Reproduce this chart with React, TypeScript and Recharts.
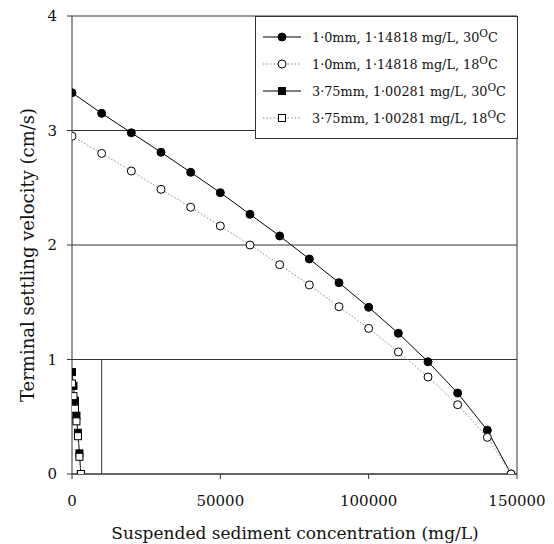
import { CartesianGrid, ComposedChart, Label, Line, ReferenceLine, XAxis, YAxis } from 'recharts'

const font = 'DejaVu Serif'

// concentration (mg/L) -> terminal settling velocity (cm/s)
const fineConc = [0, 10000, 20000, 30000, 40000, 50000, 60000, 70000, 80000, 90000, 100000, 110000, 120000, 130000, 140000, 148000]
const fineWarm = [3.33, 3.15, 2.98, 2.81, 2.635, 2.457, 2.268, 2.079, 1.878, 1.671, 1.456, 1.229, 0.98, 0.707, 0.382, 0]
const fineCool = [2.95, 2.8, 2.646, 2.486, 2.33, 2.166, 2.0, 1.828, 1.651, 1.461, 1.272, 1.066, 0.847, 0.605, 0.32, 0]

const coarseConc = [0, 500, 1000, 1500, 2000, 2500, 3000]
const coarseWarm = [0.89, 0.77, 0.64, 0.51, 0.36, 0.18, 0]
const coarseCool = [0.79, 0.68, 0.57, 0.46, 0.33, 0.15, 0]

const xTicks = [0, 50000, 100000, 150000]
const yTicks = [0, 1, 2, 3, 4]

const toRows = (xs: number[], ys: number[]) => xs.map((x, i) => ({ x, y: ys[i] }))

const series = [
  { key: 'a', label: '1·0mm, 1·14818 mg/L, 30', data: toRows(fineConc, fineWarm), marker: 'circle', filled: true, dotted: false },
  { key: 'b', label: '1·0mm, 1·14818 mg/L, 18', data: toRows(fineConc, fineCool), marker: 'circle', filled: false, dotted: true },
  { key: 'c', label: '3·75mm, 1·00281 mg/L, 30', data: toRows(coarseConc, coarseWarm), marker: 'square', filled: true, dotted: false },
  { key: 'd', label: '3·75mm, 1·00281 mg/L, 18', data: toRows(coarseConc, coarseCool), marker: 'square', filled: false, dotted: true },
]

function squareDot(filled: boolean) {
  return (props: any) => {
    const { cx, cy, index } = props
    if (cx == null || cy == null) return <g key={index} />
    return <rect key={index} x={cx - 3.5} y={cy - 3.5} width={7} height={7} fill={filled ? '#000' : '#fff'} stroke="#000" strokeWidth={1} />
  }
}

function LegendBox() {
  return (
    <div style={{ position: 'absolute', left: 255, top: 16, width: 261, height: 121, border: '1px solid #333', background: '#fff', fontFamily: font, fontSize: 12.8, color: '#111' }}>
      {series.map((s, i) => (
        <div key={s.key} style={{ position: 'absolute', left: 7, top: 9 + i * 27, height: 22, display: 'flex', alignItems: 'center' }}>
          <svg width={40} height={12} style={{ marginRight: 9 }}>
            <line x1={0} y1={6} x2={38} y2={6} stroke={s.dotted ? '#888' : '#000'} strokeWidth={1} strokeDasharray={s.dotted ? '1.5 2' : undefined} />
            {s.marker === 'circle' ? (
              <circle cx={19} cy={6} r={4} fill={s.filled ? '#000' : '#fff'} stroke="#000" />
            ) : (
              <rect x={15.5} y={2.5} width={7} height={7} fill={s.filled ? '#000' : '#fff'} stroke="#000" />
            )}
          </svg>
          <span style={{ whiteSpace: 'nowrap' }}>
            {s.label}
            <span style={{ fontSize: 10.5, position: 'relative', top: -5 }}>O</span>C
          </span>
        </div>
      ))}
    </div>
  )
}

export default function App() {
  return (
    <div style={{ position: 'absolute', left: 0, top: 0, width: 554, height: 544, background: '#fff' }}>
      <ComposedChart width={554} height={544} margin={{ top: 16, right: 37, bottom: 0, left: 0 }}>
        <CartesianGrid horizontal vertical={false} stroke="#333" strokeWidth={1} />
        <XAxis
          type="number"
          dataKey="x"
          domain={[0, 150000]}
          ticks={xTicks}
          height={70}
          allowDataOverflow
          stroke="#333"
          tickSize={5}
          tickMargin={16}
          tick={{ fill: '#111', fontSize: 15, fontFamily: font }}
        >
          <Label
            content={() => (
              <text x={295} y={539} textAnchor="middle" fill="#111" fontSize={17} fontFamily={font}>
                Suspended sediment concentration (mg/L)
              </text>
            )}
          />
        </XAxis>
        <YAxis
          type="number"
          dataKey="y"
          domain={[0, 4]}
          ticks={yTicks}
          width={72}
          allowDataOverflow
          stroke="#333"
          tickSize={5}
          tickMargin={10}
          tick={{ fill: '#111', fontSize: 15, fontFamily: font }}
        >
          <Label
            content={() => (
              <text x={34} y={255} transform="rotate(-90 34 255)" textAnchor="middle" fill="#111" fontSize={18} fontFamily={font}>
                Terminal settling velocity (cm/s)
              </text>
            )}
          />
        </YAxis>
        <ReferenceLine x={150000} stroke="#333" strokeWidth={1} />
        <ReferenceLine segment={[{ x: 10000, y: 0 }, { x: 10000, y: 1 }]} stroke="#333" strokeWidth={1} />
        {series.map((s) => (
          <Line
            key={s.key}
            data={s.data}
            dataKey="y"
            type="linear"
            stroke={s.dotted ? '#888' : '#000'}
            strokeWidth={1}
            strokeDasharray={s.dotted ? '1.5 2' : undefined}
            dot={s.marker === 'circle' ? { r: 4, fill: s.filled ? '#000' : '#fff', stroke: '#000', strokeWidth: 1, strokeDasharray: '' } : squareDot(s.filled)}
            activeDot={false}
            legendType="none"
            isAnimationActive={false}
          />
        ))}
      </ComposedChart>
      <LegendBox />
    </div>
  )
}
